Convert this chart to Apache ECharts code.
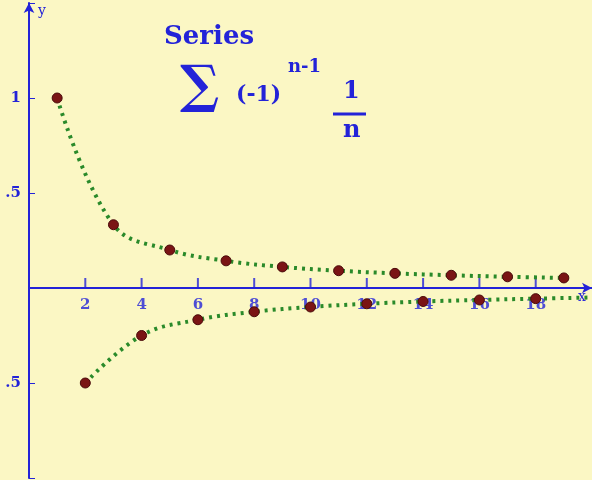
<!DOCTYPE html><html><head><meta charset="utf-8">
<script src="https://cdn.jsdelivr.net/npm/echarts@6/dist/echarts.min.js"></script>
<style>html,body{margin:0;background:#fbf7c4}#c{width:592px;height:480px}</style></head><body><div id="c"></div>
<script>
const oddN=[1,3,5,7,9,11,13,15,17,19];
const oddVals=[1,0.333,0.2,0.143,0.111,0.091,0.077,0.067,0.059,0.053];
const evenN=[2,4,6,8,10,12,14,16,18,20];
const evenVals=[-0.5,-0.25,-0.167,-0.125,-0.1,-0.083,-0.071,-0.063,-0.056,-0.05];
const xTicks=[2,4,6,8,10,12,14,16,18];
const yLabels={'1':'1','0.5':'.5','-0.5':'.5'};
const blue='#2323d8';
const ser=(xs,ys)=>({type:'line',data:xs.map((x,i)=>[x,ys[i]]),symbol:'circle',symbolSize:v=>v[0]>=20?0:10,smooth:0.4,
 itemStyle:{color:'#7a1414',borderColor:'#4a0a0a',borderWidth:1},
 lineStyle:{color:'#2a8a2a',width:4,type:[3,5]},z:3});
const chart=echarts.init(document.getElementById('c'));
chart.setOption({backgroundColor:'#fbf7c4',animation:false,
grid:{left:29,right:0,top:3,bottom:2,outerBoundsMode:'none',containLabel:false},
xAxis:{type:'value',min:0,max:20,interval:2,axisLine:{onZero:true,lineStyle:{color:blue,width:2},symbol:['none','arrow'],symbolSize:[8,10]},
 axisTick:{show:false},splitLine:{show:false},axisLabel:{show:false}},
yAxis:{type:'value',min:-1,max:1.5,interval:0.5,axisLine:{onZero:true,lineStyle:{color:blue,width:2},symbol:['none','arrow'],symbolSize:[8,10]},
 axisTick:{inside:true,length:6,lineStyle:{color:blue}},splitLine:{show:false},
 axisLabel:{color:blue,fontFamily:'DejaVu Serif',fontWeight:'bold',fontSize:15,margin:8,formatter:v=>yLabels[String(v)]||''}},
graphic:[
 {type:'text',left:38,top:4,style:{text:'y',fill:blue,font:'14px DejaVu Serif'}},
 {type:'text',left:578,top:290,style:{text:'x',fill:blue,font:'14px DejaVu Serif'}},
 {type:'text',left:164,top:24,style:{text:'Series',fill:blue,font:'bold 26px DejaVu Serif'}},
 {type:'text',left:180,top:62,style:{text:'∑',fill:blue,font:'bold 52px DejaVu Serif'}},
 {type:'text',left:236,top:84,style:{text:'(-1)',fill:blue,font:'bold 22px DejaVu Serif'}},
 {type:'text',left:288,top:58,style:{text:'n-1',fill:blue,font:'bold 18px DejaVu Serif'}},
 {type:'text',left:343,top:80,style:{text:'1',fill:blue,font:'bold 24px DejaVu Serif'}},
 {type:'line',shape:{x1:333,y1:114,x2:366,y2:114},style:{stroke:blue,lineWidth:3}},
 {type:'text',left:343,top:119,style:{text:'n',fill:blue,font:'bold 24px DejaVu Serif'}}
],
series:[
 {type:'scatter',data:xTicks.map(x=>[x,0]),symbol:'rect',symbolSize:[2,10],symbolOffset:[0,-5],itemStyle:{color:blue},z:2,
  label:{show:true,position:'bottom',distance:10,formatter:p=>String(p.value[0]),color:blue,fontFamily:'DejaVu Serif',fontWeight:'bold',fontSize:15}},
 ser(oddN,oddVals),ser(evenN,evenVals)]});
</script></body></html>
